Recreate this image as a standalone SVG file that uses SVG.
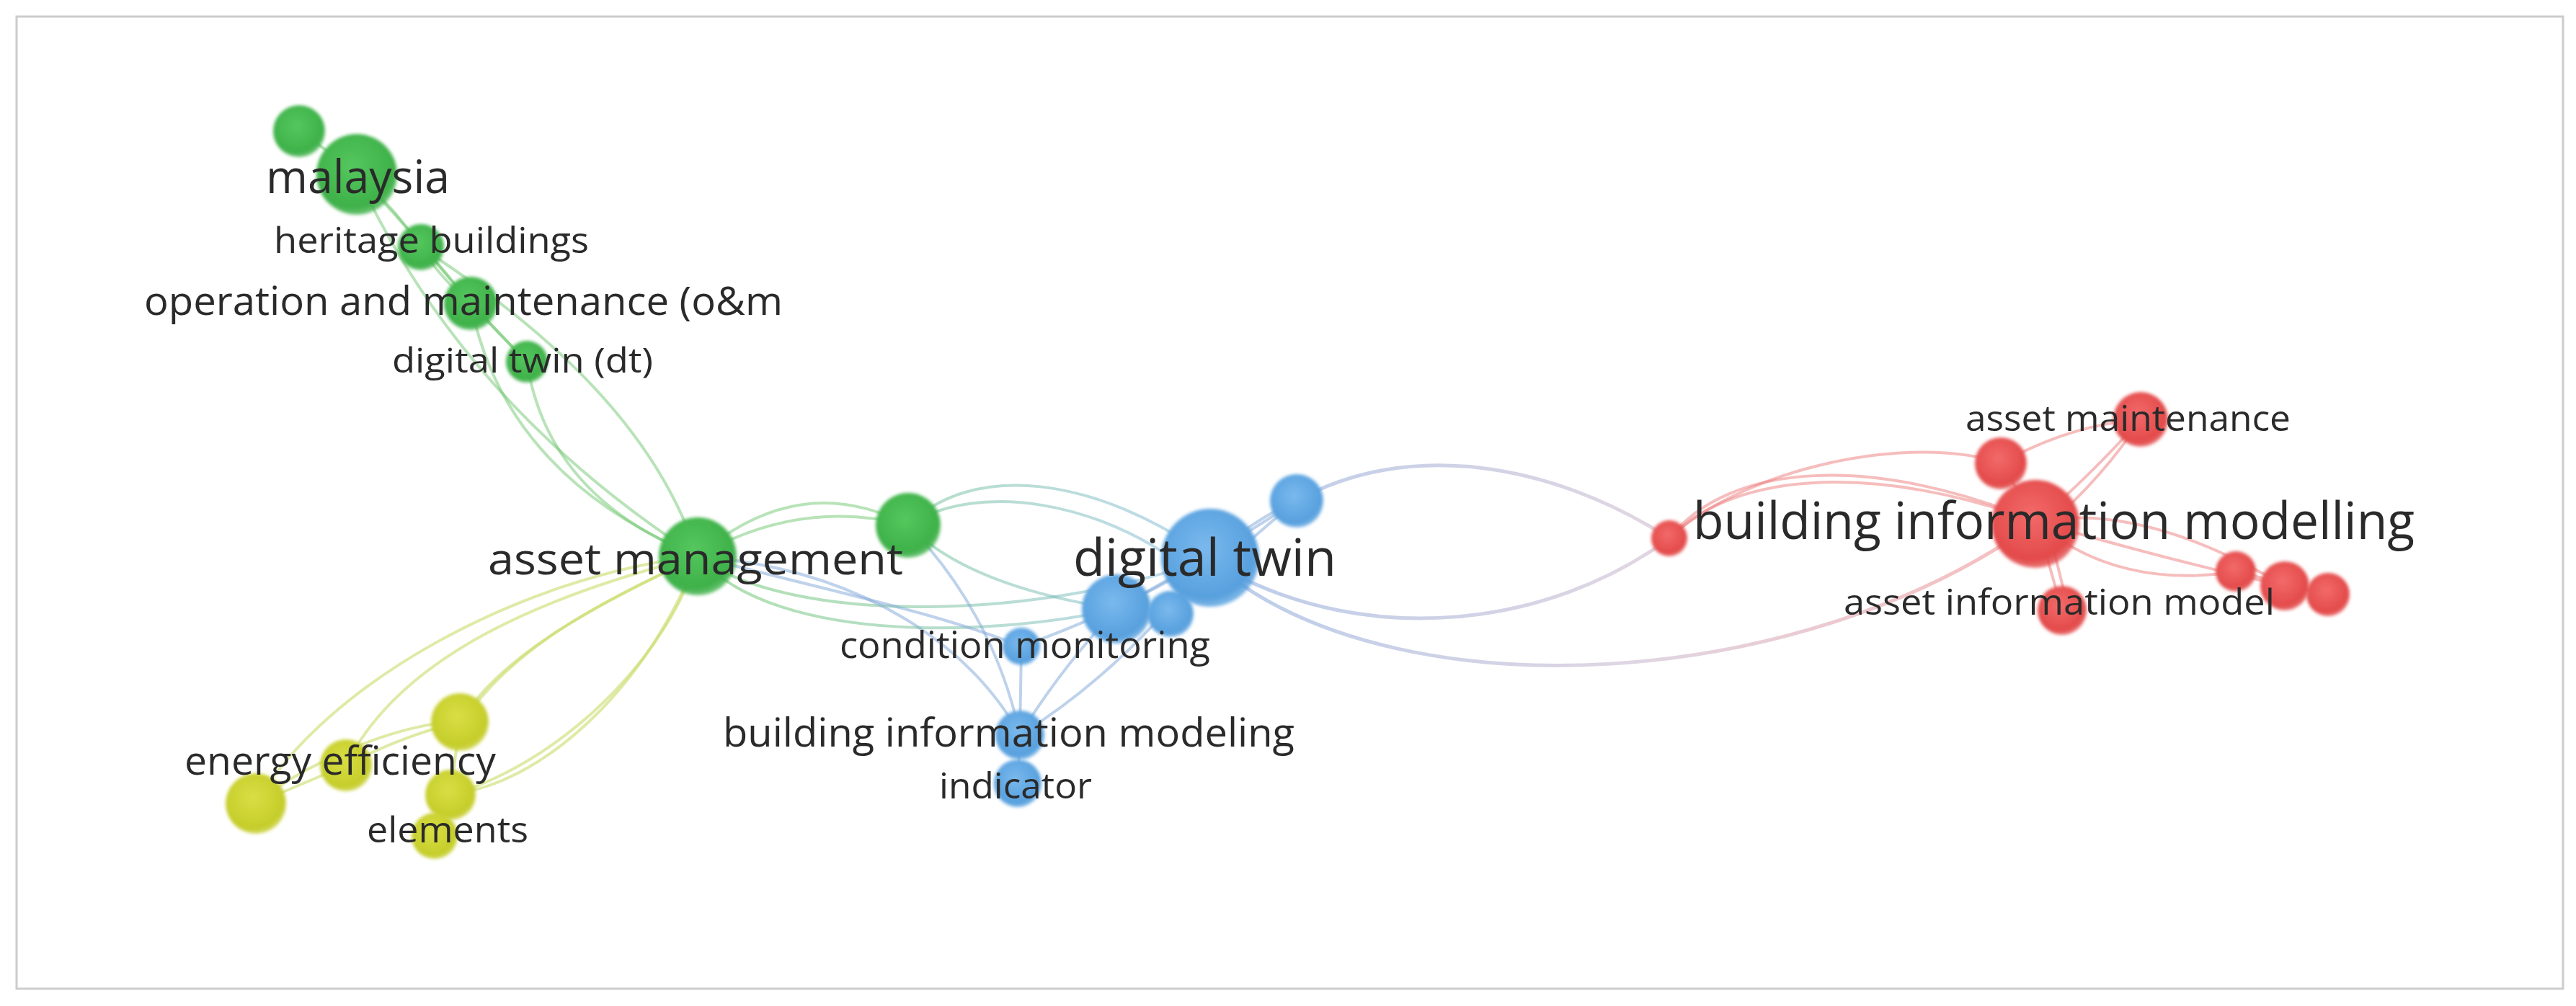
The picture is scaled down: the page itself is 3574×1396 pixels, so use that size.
<svg xmlns="http://www.w3.org/2000/svg" width="3574" height="1396" viewBox="0 0 3574 1396">
<style>
.lbl{font-family:"Open Sans","Noto Sans","DejaVu Sans",sans-serif;fill:#2a2a2a;}
.eg{fill:none;stroke:#62c262;stroke-opacity:0.45;stroke-width:4;}
.ey{fill:none;stroke:#c9dc6a;stroke-opacity:0.6;stroke-width:4;}
.eb{fill:none;stroke:#7ea6d8;stroke-opacity:0.5;stroke-width:4;}
.egb{fill:none;stroke:url(#gGB);stroke-opacity:0.5;stroke-width:4;}
.ebr{fill:none;stroke:url(#gBR);stroke-opacity:0.55;stroke-width:5;}
.er{fill:none;stroke:#ee7b7b;stroke-opacity:0.5;stroke-width:4;}
.ng{fill:url(#rG);filter:url(#soft);}
.nb{fill:url(#rB);filter:url(#soft);}
.nr{fill:url(#rR);filter:url(#soft);}
.ny{fill:url(#rY);filter:url(#soft);}
</style>
<defs>
<filter id="soft" x="-20%" y="-20%" width="140%" height="140%"><feGaussianBlur stdDeviation="2"/></filter>
<radialGradient id="rG" cx="0.45" cy="0.4" r="0.6"><stop offset="0" stop-color="#55c75e"/><stop offset="0.85" stop-color="#3eb149"/><stop offset="1" stop-color="#3eb149" stop-opacity="0.75"/></radialGradient>
<radialGradient id="rB" cx="0.45" cy="0.4" r="0.6"><stop offset="0" stop-color="#7ab9ed"/><stop offset="0.85" stop-color="#57a0de"/><stop offset="1" stop-color="#57a0de" stop-opacity="0.75"/></radialGradient>
<radialGradient id="rR" cx="0.45" cy="0.4" r="0.6"><stop offset="0" stop-color="#f36a6a"/><stop offset="0.85" stop-color="#e34a4a"/><stop offset="1" stop-color="#e34a4a" stop-opacity="0.75"/></radialGradient>
<radialGradient id="rY" cx="0.45" cy="0.4" r="0.6"><stop offset="0" stop-color="#d9df44"/><stop offset="0.85" stop-color="#c5cd2a"/><stop offset="1" stop-color="#c5cd2a" stop-opacity="0.75"/></radialGradient>
<linearGradient id="gBR" gradientUnits="userSpaceOnUse" x1="1750" y1="0" x2="2800" y2="0"><stop offset="0" stop-color="#8aa6d8"/><stop offset="0.5" stop-color="#c6b4cc"/><stop offset="1" stop-color="#f28888"/></linearGradient>
<linearGradient id="gGB" gradientUnits="userSpaceOnUse" x1="1000" y1="0" x2="1650" y2="0"><stop offset="0" stop-color="#62c262"/><stop offset="1" stop-color="#7fb8d8"/></linearGradient>
</defs>
<rect x="0" y="0" width="3574" height="1396" fill="#ffffff"/>
<rect x="23" y="23" width="3533" height="1349" fill="#ffffff" stroke="#cccccc" stroke-width="3"/>
<g id="connectors">
<path class="eg" d="M 415,182 Q 450,205 495,242"/>
<path class="eg" d="M 495,242 Q 545,285 584,343"/>
<path class="eg" d="M 505,252 Q 580,330 653,421"/>
<path class="eg" d="M 584,343 Q 610,385 653,421"/>
<path class="eg" d="M 595,352 Q 650,420 731,502"/>
<path class="eg" d="M 653,421 Q 690,460 731,502"/>
<path class="eg" d="M 653,421 Q 700,660 968,772"/>
<path class="eg" d="M 731,502 Q 760,690 968,772"/>
<path class="eg" d="M 584,343 C 700,420 900,560 968,772"/>
<path class="eg" d="M 495,242 Q 640,560 968,772"/>
<path class="eg" d="M 968,772 Q 1110,650 1260,729"/>
<path class="eg" d="M 968,772 Q 1110,690 1260,729"/>
<path class="egb" d="M 1260,729 C 1350,640 1520,660 1679,774"/>
<path class="egb" d="M 1260,729 C 1360,665 1530,700 1640,785"/>
<path class="egb" d="M 1260,729 C 1330,800 1450,830 1549,845"/>
<path class="egb" d="M 968,772 C 1080,900 1400,880 1549,845"/>
<path class="egb" d="M 968,772 C 1100,870 1450,860 1679,774"/>
<path class="eb" d="M 968,772 C 1150,820 1300,850 1417,897"/>
<path class="eb" d="M 968,772 C 1200,790 1350,900 1415,1020"/>
<path class="eb" d="M 1260,729 C 1330,800 1390,900 1415,1020"/>
<path class="eb" d="M 1417,897 L 1415,1020"/>
<path class="eb" d="M 1549,845 Q 1470,930 1415,1020"/>
<path class="eb" d="M 1679,774 Q 1560,930 1415,1020"/>
<path class="eb" d="M 1679,774 Q 1550,850 1417,897" stroke-width="7"/>
<path class="eb" d="M 1415,1020 L 1412,1087"/>
<path class="eb" d="M 1679,774 Q 1740,720 1799,695"/>
<path class="eb" d="M 1690,790 Q 1750,735 1799,695"/>
<path class="eb" d="M 1549,845 Q 1700,760 1799,695"/>
<path class="ebr" d="M 1799,695 C 1950,610 2150,640 2316,747"/>
<path class="ebr" d="M 1700,790 C 1900,900 2150,870 2316,747"/>
<path class="ebr" d="M 1700,795 C 1950,990 2500,960 2826,724"/>
<path class="er" d="M 2316,747 C 2400,640 2600,630 2826,724"/>
<path class="er" d="M 2316,747 C 2410,650 2610,645 2826,724"/>
<path class="er" d="M 2316,747 C 2420,650 2650,600 2778,643"/>
<path class="er" d="M 2826,724 Q 2900,660 2970,582"/>
<path class="er" d="M 2840,730 Q 2920,660 2970,582"/>
<path class="er" d="M 2826,724 L 2776,643"/>
<path class="er" d="M 2776,643 Q 2870,590 2970,582"/>
<path class="er" d="M 2826,724 L 2861,847"/>
<path class="er" d="M 2840,724 L 2870,847"/>
<path class="er" d="M 2826,724 C 2900,790 3000,810 3102,793"/>
<path class="er" d="M 2826,724 C 2950,700 3080,760 3170,813"/>
<path class="er" d="M 2826,724 C 2950,760 3100,800 3230,825"/>
<path class="er" d="M 3102,793 L 3230,825"/>
<path class="ey" d="M 968,772 C 850,830 700,900 638,1002"/>
<path class="ey" d="M 968,772 C 870,820 730,880 650,990"/>
<path class="ey" d="M 968,772 C 780,820 560,900 480,1062"/>
<path class="ey" d="M 968,772 C 720,800 450,950 355,1115"/>
<path class="ey" d="M 968,772 C 930,900 800,1040 650,1095"/>
<path class="ey" d="M 968,772 C 900,950 760,1080 640,1100"/>
<path class="ey" d="M 638,1002 Q 560,1020 480,1062"/>
<path class="ey" d="M 480,1062 L 355,1115"/>
<path class="ey" d="M 638,1002 C 560,1000 420,1060 355,1115"/>
<path class="ey" d="M 625,1103 L 603,1160"/>
<path class="ey" d="M 638,1002 L 625,1103"/>
</g>
<g id="node-green-top"><circle class="ng" cx="415" cy="182" r="36"/></g>
<g id="node-malaysia"><circle class="ng" cx="495" cy="242" r="56"/></g>
<g id="node-heritage-buildings"><circle class="ng" cx="584" cy="343" r="32"/></g>
<g id="node-om"><circle class="ng" cx="653" cy="421" r="37"/></g>
<g id="node-digital-twin-dt"><circle class="ng" cx="731" cy="502" r="29"/></g>
<g id="node-asset-management"><circle class="ng" cx="968" cy="772" r="54"/></g>
<g id="node-green-mid"><circle class="ng" cx="1260" cy="729" r="45"/></g>
<g id="node-blue-up"><circle class="nb" cx="1799" cy="695" r="37"/></g>
<g id="node-blue-a"><circle class="nb" cx="1549" cy="845" r="48"/></g>
<g id="node-blue-b"><circle class="nb" cx="1624" cy="852" r="32"/></g>
<g id="node-digital-twin"><circle class="nb" cx="1679" cy="774" r="68"/></g>
<g id="node-condition-monitoring"><circle class="nb" cx="1417" cy="897" r="26"/></g>
<g id="node-bim-blue"><circle class="nb" cx="1415" cy="1020" r="34"/></g>
<g id="node-indicator"><circle class="nb" cx="1412" cy="1087" r="33"/></g>
<g id="node-red-left"><circle class="nr" cx="2316" cy="747" r="25"/></g>
<g id="node-red-ul"><circle class="nr" cx="2776" cy="643" r="36"/></g>
<g id="node-asset-maintenance"><circle class="nr" cx="2970" cy="582" r="38"/></g>
<g id="node-bim-red"><circle class="nr" cx="2824" cy="727" r="61"/></g>
<g id="node-asset-information-model"><circle class="nr" cx="2861" cy="847" r="34"/></g>
<g id="node-red-r1"><circle class="nr" cx="3102" cy="793" r="28"/></g>
<g id="node-red-r2"><circle class="nr" cx="3170" cy="813" r="34"/></g>
<g id="node-red-r3"><circle class="nr" cx="3230" cy="825" r="30"/></g>
<g id="node-yellow-1"><circle class="ny" cx="638" cy="1002" r="40"/></g>
<g id="node-energy-efficiency"><circle class="ny" cx="480" cy="1062" r="36"/></g>
<g id="node-yellow-left"><circle class="ny" cx="355" cy="1115" r="42"/></g>
<g id="node-yellow-4"><circle class="ny" cx="625" cy="1103" r="35"/></g>
<g id="node-elements"><circle class="ny" cx="603" cy="1160" r="32"/></g>
<g id="labels">
<text class="lbl" x="369" y="268" font-size="64" textLength="255" lengthAdjust="spacingAndGlyphs">malaysia</text>
<text class="lbl" x="380" y="351" font-size="50" textLength="437" lengthAdjust="spacingAndGlyphs">heritage buildings</text>
<text class="lbl" x="200" y="437" font-size="54" textLength="886" lengthAdjust="spacingAndGlyphs">operation and maintenance (o&amp;m</text>
<text class="lbl" x="544" y="517" font-size="48" textLength="362" lengthAdjust="spacingAndGlyphs">digital twin (dt)</text>
<text class="lbl" x="677" y="797" font-size="60" textLength="576" lengthAdjust="spacingAndGlyphs">asset management</text>
<text class="lbl" x="1489" y="799" font-size="72" textLength="365" lengthAdjust="spacingAndGlyphs">digital twin</text>
<text class="lbl" x="1165" y="913" font-size="52" textLength="514" lengthAdjust="spacingAndGlyphs">condition monitoring</text>
<text class="lbl" x="1003" y="1036" font-size="55" textLength="793" lengthAdjust="spacingAndGlyphs">building information modeling</text>
<text class="lbl" x="1303" y="1108" font-size="50" textLength="212" lengthAdjust="spacingAndGlyphs">indicator</text>
<text class="lbl" x="256" y="1075" font-size="54" textLength="432" lengthAdjust="spacingAndGlyphs">energy efficiency</text>
<text class="lbl" x="509" y="1169" font-size="50" textLength="224" lengthAdjust="spacingAndGlyphs">elements</text>
<text class="lbl" x="2349" y="748" font-size="72" textLength="1001" lengthAdjust="spacingAndGlyphs">building information modelling</text>
<text class="lbl" x="2727" y="598" font-size="50" textLength="451" lengthAdjust="spacingAndGlyphs">asset maintenance</text>
<text class="lbl" x="2558" y="853" font-size="50" textLength="598" lengthAdjust="spacingAndGlyphs">asset information model</text>
</g>
</svg>
